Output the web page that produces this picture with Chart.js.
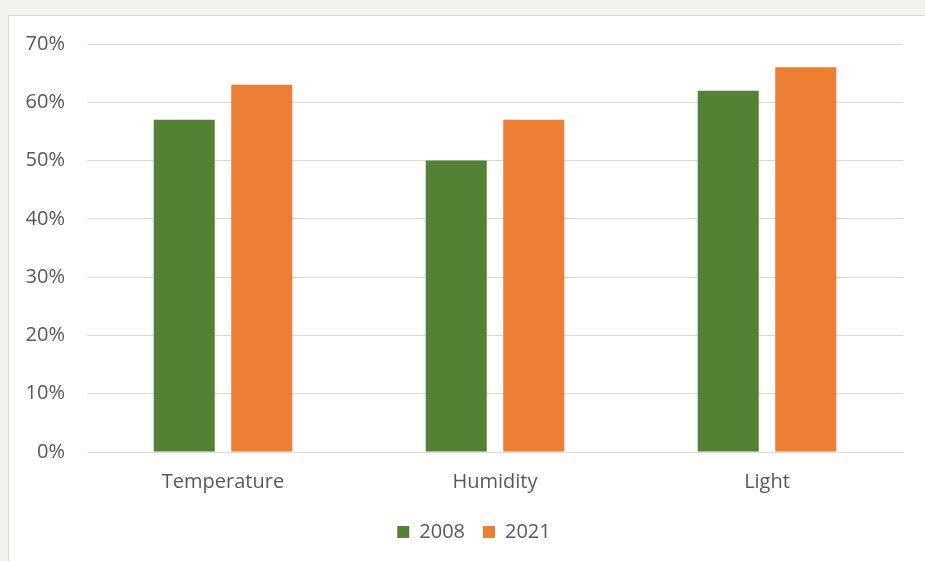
<!DOCTYPE html>
<html>
<head>
<meta charset="utf-8">
<script src="https://cdn.jsdelivr.net/npm/chart.js@4.4.1/dist/chart.umd.min.js"></script>
<style>
  html, body { margin: 0; padding: 0; background: #f2f2ee; overflow: hidden; }
  .frame {
    position: absolute; left: 8px; top: 15px; width: 940px; height: 560px;
    background: #fff; border: 1px solid #d9d9d9;
  }
  .frame canvas { position: absolute; left: 0; top: 0; }
</style>
</head>
<body>
<div class="frame">
  <canvas id="myChart" width="931" height="546"></canvas>
</div>
<script>
const categories = ["Temperature", "Humidity", "Light"];
const values2008 = [57, 50, 62];
const values2021 = [63, 57, 66];
const seriesNames = ["2008", "2021"];

const ctx = document.getElementById("myChart");
const fontFamily = "'Open Sans', 'Noto Sans', sans-serif";

// legend is centred under the whole box in the original, not the padded area
const shiftLegend = {
  id: "shiftLegend",
  afterLayout: (chart) => {
    chart.legend.left += 18;
    chart.legend.right += 18;
  },
};

new Chart(ctx, {
  type: "bar",
  data: {
    labels: categories,
    datasets: [
      { label: seriesNames[0], data: values2008, backgroundColor: "#548235" },
      { label: seriesNames[1], data: values2021, backgroundColor: "#ed7d31" },
    ],
  },
  options: {
    responsive: false,
    animation: false,
    categoryPercentage: 0.57,
    barPercentage: 0.787,
    layout: { padding: { top: 28, right: 37, bottom: 10, left: 0 } },
    plugins: {
      tooltip: { enabled: false },
      legend: {
        position: "bottom",
        labels: {
          color: "#595959",
          font: { family: fontFamily, size: 20 },
          boxWidth: 12,
          boxHeight: 12,
          padding: 18,
        },
      },
    },
    scales: {
      x: {
        grid: { display: false },
        border: { color: "#d9d9d9" },
        afterFit: (scale) => { scale.height -= 0; },
        ticks: { color: "#595959", font: { family: fontFamily, size: 20 }, padding: 10 },
      },
      y: {
        min: 0,
        max: 70,
        afterFit: (scale) => {
          scale.width = 78;
          scale.paddingTop = 0;
        },
        grid: { color: "#d9d9d9", drawTicks: false },
        border: { display: false },
        ticks: {
          stepSize: 10,
          padding: 22,
          color: "#595959",
          font: { family: fontFamily, size: 20 },
          callback: (v) => v + "%",
        },
      },
    },
  },
  plugins: [shiftLegend],
});
</script>
</body>
</html>
